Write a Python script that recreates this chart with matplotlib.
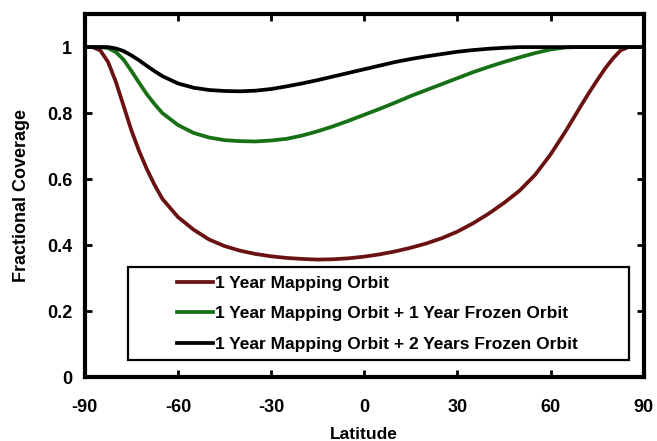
import numpy as np
import matplotlib
matplotlib.use("Agg")
import matplotlib.pyplot as plt
from matplotlib.patches import Rectangle

plt.rcParams['font.family'] = ['Liberation Sans', 'DejaVu Sans']
plt.rcParams['font.weight'] = 'bold'
plt.rcParams['axes.unicode_minus'] = False

# latitude samples, denser near the poles where the curves bend quickly
lat = [-90, -87.5, -85, -82.5, -80, -77.5, -75, -72.5, -70, -67.5, -65,
       -60, -55, -50, -45, -40, -35, -30, -25, -20, -15, -10, -5, 0,
       5, 10, 15, 20, 25, 30, 35, 40, 45, 50, 55, 60,
       65, 67.5, 70, 72.5, 75, 77.5, 80, 82.5, 85, 87.5, 90]

map_1yr = [1.0, 1.0, 0.99, 0.955, 0.895, 0.822, 0.748, 0.685, 0.63, 0.582, 0.54,
           0.485, 0.447, 0.417, 0.397, 0.383, 0.373, 0.366, 0.361, 0.358, 0.356,
           0.357, 0.36, 0.365,
           0.372, 0.381, 0.392, 0.405, 0.421, 0.441, 0.466, 0.495, 0.528, 0.565,
           0.613, 0.675,
           0.748, 0.787, 0.826, 0.864, 0.90, 0.935, 0.965, 0.99, 1.0, 1.0, 1.0]
frozen_1yr = [1.0, 1.0, 1.0, 0.997, 0.985, 0.962, 0.928, 0.892, 0.857, 0.827, 0.80,
              0.764, 0.74, 0.726, 0.718, 0.715, 0.714, 0.717, 0.722, 0.732, 0.745,
              0.76, 0.777, 0.795,
              0.813, 0.832, 0.852, 0.87, 0.888, 0.906, 0.924, 0.94, 0.955, 0.969,
              0.982, 0.993,
              0.999, 1.0, 1.0, 1.0, 1.0, 1.0, 1.0, 1.0, 1.0, 1.0, 1.0]
frozen_2yr = [1.0, 1.0, 1.0, 1.0, 0.996, 0.988, 0.975, 0.96, 0.943, 0.927, 0.912,
              0.89, 0.877, 0.87, 0.867, 0.866, 0.868, 0.873, 0.881, 0.89, 0.90,
              0.911, 0.922, 0.933,
              0.944, 0.955, 0.964, 0.972, 0.979, 0.986, 0.991, 0.995, 0.998, 1.0,
              1.0, 1.0,
              1.0, 1.0, 1.0, 1.0, 1.0, 1.0, 1.0, 1.0, 1.0, 1.0, 1.0]

labels = ['1 Year Mapping Orbit',
          '1 Year Mapping Orbit + 1 Year Frozen Orbit',
          '1 Year Mapping Orbit + 2 Years Frozen Orbit']
colors = ['#6a1212', '#167016', '#000000']

fig = plt.figure(figsize=(6.57, 4.41), dpi=100)
ax = fig.add_axes([0.129, 0.145, 0.851, 0.823])

for ys, lab, c in zip([map_1yr, frozen_1yr, frozen_2yr], labels, colors):
    ax.plot(lat, ys, color=c, lw=2.7, label=lab, solid_joinstyle='round')

ax.set_xlim(-90, 90)
ax.set_ylim(0, 1.1)
ax.set_xticks(np.arange(-90, 91, 30))
ax.set_yticks([0, 0.2, 0.4, 0.6, 0.8, 1.0])
ax.set_yticklabels(['0', '0.2', '0.4', '0.6', '0.8', '1'])
ax.tick_params(direction='in', length=5, width=2, top=True, right=True,
               labelsize=13)
ax.tick_params(axis='x', pad=15.5)
ax.tick_params(axis='y', pad=9)
for s in ax.spines.values():
    s.set_linewidth(3)

ax.set_xlabel('Latitude', fontsize=12.5, fontweight='bold', labelpad=8)
ax.set_ylabel('Fractional Coverage', fontsize=13, fontweight='bold', labelpad=12)

# legend frame drawn separately so the entries can sit indented inside it
ax.add_patch(Rectangle((0.077, 0.047), 0.896, 0.256, transform=ax.transAxes,
                       fill=True, facecolor='white', edgecolor='black',
                       lw=1.6, zorder=4))
leg = ax.legend(loc='center left', bbox_to_anchor=(0.165, 0.174),
                frameon=False, fontsize=12.5, handlelength=2.1,
                handletextpad=0.1, borderaxespad=0, borderpad=0,
                labelspacing=0.9)
leg.set_zorder(5)
for t in leg.get_texts():
    t.set_fontweight('bold')

fig.savefig('out.png', dpi=100)
